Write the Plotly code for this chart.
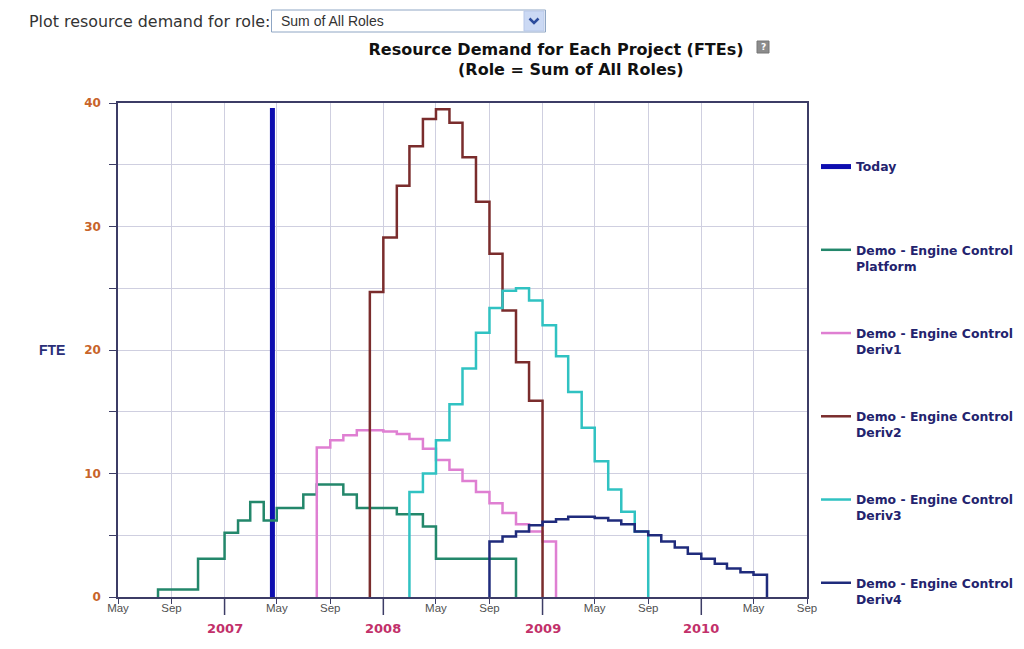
import pandas as pd
import plotly.graph_objects as go

# ---------------- data (monthly FTE demand, step plot) ----------------
platform_start = "2006-08-01"
platform_fte = [0.6, 0.6, 0.6, 3.1, 3.1, 5.2, 6.2, 7.7, 6.2, 7.2, 7.2, 8.3, 9.1, 9.1,
                8.3, 7.2, 7.2, 7.2, 6.7, 6.7, 5.7, 3.1, 3.1, 3.1, 3.1, 3.1, 3.1]

deriv1_start = "2007-08-01"
deriv1_fte = [12.1, 12.7, 13.1, 13.5, 13.5, 13.4, 13.2, 12.8, 12.0, 11.1, 10.3, 9.4,
              8.5, 7.6, 6.8, 5.9, 5.3, 4.5]

deriv2_start = "2007-12-01"
deriv2_fte = [24.7, 29.1, 33.3, 36.5, 38.7, 39.5, 38.4, 35.6, 32.0, 27.8, 23.2, 19.0, 15.9]

deriv3_start = "2008-03-01"
deriv3_fte = [8.5, 10.0, 12.7, 15.6, 18.5, 21.4, 23.4, 24.8, 25.0, 24.0, 22.0, 19.5,
              16.6, 13.7, 11.0, 8.7, 6.9, 5.3]

deriv4_start = "2008-09-01"
deriv4_fte = [4.5, 4.9, 5.3, 5.8, 6.1, 6.3, 6.5, 6.5, 6.4, 6.2, 5.9, 5.3, 5.0, 4.5,
              4.0, 3.5, 3.1, 2.7, 2.3, 2.0, 1.8]

today_date = "2007-04-21"
today_top = 39.6

series_names = ["Demo - Engine Control<br>Platform", "Demo - Engine Control<br>Deriv1",
                "Demo - Engine Control<br>Deriv2", "Demo - Engine Control<br>Deriv3",
                "Demo - Engine Control<br>Deriv4"]
series_colors = ["#23876b", "#df7fd2", "#7a2c2c", "#30c2c2", "#1f2b7c"]

x_start, x_end = "2006-05-01", "2010-09-01"
year_labels = ["2007", "2008", "2009", "2010"]
month_abbr = {5: "May", 9: "Sep", 1: ""}

title_line1 = "Resource Demand for Each Project (FTEs)"
title_line2 = "(Role = Sum of All Roles)"

# ---------------- figure ----------------
OFF = 8                      # page body margin of the html page
W, H = 1024 - OFF, 649 - OFF
SL, SR, ST, SB = 118, 807, 103, 597   # plot area in screen pixels
L, T = SL - OFF, ST - OFF
R, B = 1024 - SR, 649 - SB
PW, PH = SR - SL, SB - ST


def px(xp):
    return (xp - SL) / PW


def py(yp):
    return (SB - yp) / PH


def step_series(start, values):
    dates = pd.date_range(start, periods=len(values) + 1, freq="MS")
    xs = [dates[0]] + list(dates)
    ys = [0] + list(values) + [0]
    return xs, ys


fig = go.Figure()
fig.add_trace(go.Scatter(x=[today_date, today_date], y=[0, today_top], mode="lines",
                         line=dict(color="#0e0eb0", width=5), name="Today<br>\u00a0",
                         legendgroup="g0"))

starts = [platform_start, deriv1_start, deriv2_start, deriv3_start, deriv4_start]
vals = [platform_fte, deriv1_fte, deriv2_fte, deriv3_fte, deriv4_fte]
for i, (s, v) in enumerate(zip(starts, vals)):
    xs, ys = step_series(s, v)
    fig.add_trace(go.Scatter(x=xs, y=ys, mode="lines", line_shape="hv",
                             line=dict(color=series_colors[i], width=2.5),
                             name=series_names[i], legendgroup=f"g{i+1}"))

tick_dates = pd.date_range(x_start, x_end, freq="4MS")
tick_text = [month_abbr[d.month] for d in tick_dates]

axis_col = "#3c3c66"
grid_col = "#cfcfe0"

fig.update_xaxes(range=[x_start, x_end], tickmode="array", tickvals=list(tick_dates),
                 ticktext=tick_text, ticks="outside", ticklen=5, tickcolor=axis_col,
                 ticklabelstandoff=-6,
                 showgrid=True, gridcolor=grid_col, gridwidth=1,
                 showline=True, linecolor=axis_col, linewidth=1.5, mirror=True,
                 tickfont=dict(family="Liberation Sans", size=11.5, color="#505050"),
                 zeroline=False)
ytv = list(range(0, 41, 5))
fig.update_yaxes(range=[0, 40], tickmode="array", tickvals=ytv,
                 ticktext=[str(v) if v % 10 == 0 else "" for v in ytv],
                 ticks="outside", ticklen=7, tickcolor=axis_col, ticklabelstandoff=6,
                 showgrid=True, gridcolor=grid_col, gridwidth=1,
                 showline=True, linecolor=axis_col, linewidth=1.5, mirror=True,
                 tickfont=dict(family="DejaVu Sans", size=12, color="#c8642a", weight="bold"),
                 zeroline=False)

shapes = []
# long ticks at January
for y in year_labels:
    shapes.append(dict(type="line", xref="x", yref="paper", x0=f"{y}-01-01", x1=f"{y}-01-01",
                       y0=0, y1=-18 / PH, line=dict(color=axis_col, width=1.5)))
# page left border
shapes.append(dict(type="line", xref="paper", yref="paper", x0=px(7), x1=px(7),
                   y0=py(0), y1=py(649), line=dict(color="#e2e2e2", width=1)))
# dropdown box
shapes.append(dict(type="rect", xref="paper", yref="paper", x0=px(271.5), x1=px(545.5),
                   y0=py(32), y1=py(10), line=dict(color="#8fa6c4", width=1),
                   fillcolor="white"))
shapes.append(dict(type="rect", xref="paper", yref="paper", x0=px(524), x1=px(544),
                   y0=py(31), y1=py(11), line=dict(color="#b8c8e8", width=1),
                   fillcolor="#cbd9f4"))
shapes.append(dict(type="path", xref="paper", yref="paper",
                   path=f"M{px(529.5)},{py(18.5)} L{px(534)},{py(23)} L{px(538.5)},{py(18.5)}",
                   line=dict(color="#2c4c9c", width=2.5)))
# help icon
shapes.append(dict(type="rect", xref="paper", yref="paper", x0=px(757), x1=px(769),
                   y0=py(53), y1=py(41), line=dict(color="#777777", width=1),
                   fillcolor="#8c8c8c"))

annotations = []
for y in year_labels:
    annotations.append(dict(x=f"{y}-01-01", y=py(628), xref="x", yref="paper",
                            text=y, showarrow=False, xanchor="center", yanchor="middle",
                            font=dict(family="DejaVu Sans", size=13, color="#c2306a",
                                      weight="bold")))
annotations.append(dict(x=px(52), y=py(350), xref="paper", yref="paper", text="FTE",
                        showarrow=False, xanchor="center", yanchor="middle",
                        font=dict(family="Liberation Sans", size=14, color="#2a2f78",
                                  weight="bold")))
annotations.append(dict(x=px(27), y=py(21), xref="paper", yref="paper",
                        text="Plot resource demand for role:", showarrow=False,
                        xanchor="left", yanchor="middle",
                        font=dict(family="DejaVu Sans", size=15.9, color="#333333")))
annotations.append(dict(x=px(279), y=py(21), xref="paper", yref="paper",
                        text="Sum of All Roles", showarrow=False,
                        xanchor="left", yanchor="middle",
                        font=dict(family="Liberation Sans", size=14, color="#333333")))
annotations.append(dict(x=px(763), y=py(47), xref="paper", yref="paper", text="?",
                        showarrow=False, xanchor="center", yanchor="middle",
                        font=dict(family="DejaVu Sans", size=9, color="white", weight="bold")))
# second title line
annotations.append(dict(x=px(571), y=py(70), xref="paper", yref="paper", text=title_line2,
                        showarrow=False, xanchor="center", yanchor="middle",
                        font=dict(family="DejaVu Sans", size=16, color="#111111",
                                  weight="bold")))

fig.update_layout(
    width=W, height=H,
    margin=dict(l=L, r=R, t=T, b=B, autoexpand=False),
    plot_bgcolor="white", paper_bgcolor="white",
    title=dict(text=title_line1,
               x=(556 - OFF) / W, xanchor="center", xref="container",
               y=1 - (49 - OFF) / H, yanchor="middle", yref="container",
               font=dict(family="DejaVu Sans", size=16, color="#111111", weight="bold")),
    legend=dict(x=px(816), xanchor="left", y=py(152), yanchor="top", valign="top",
                tracegroupgap=48, bgcolor="rgba(0,0,0,0)", traceorder="grouped",
                font=dict(family="DejaVu Sans", size=12.4, color="#23236e", weight="bold")),
    shapes=shapes, annotations=annotations,
    showlegend=True,
)

fig.write_html("out.html")
